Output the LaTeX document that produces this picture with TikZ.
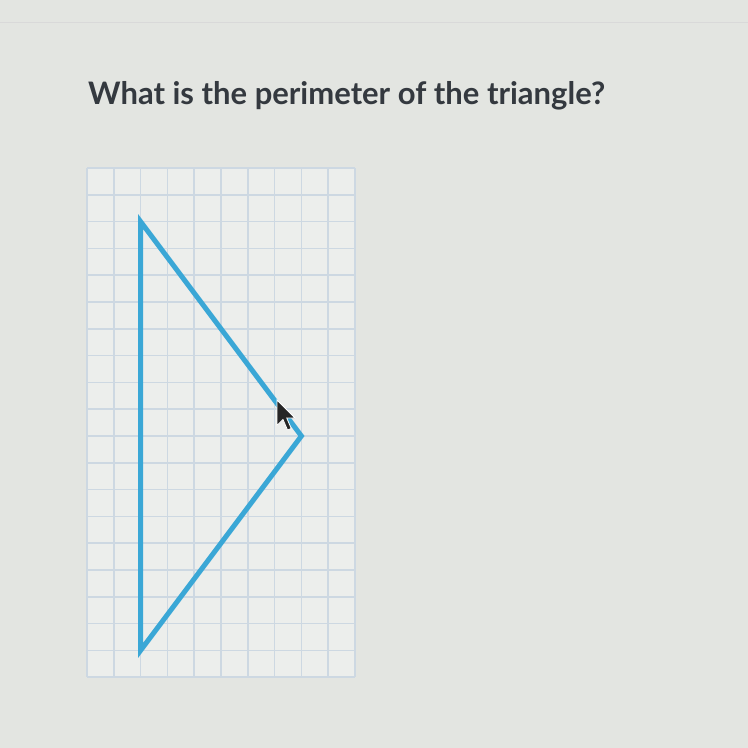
\documentclass[tikz,border=0pt]{standalone}
\usepackage{fontspec}
\setmainfont{Lato}
\begin{document}
\begin{tikzpicture}[x=1pt,y=-1pt,
  gridline/.style={draw=gridblue, line width=1.5pt},
  tri/.style={draw=triblue, line width=5pt, line join=miter, line cap=round}]
\definecolor{bg}{HTML}{E3E5E1}
\definecolor{gridfill}{HTML}{ECEEEC}
\definecolor{gridblue}{HTML}{CDD8E2}
\definecolor{triblue}{HTML}{3AA7D6}
\definecolor{txt}{HTML}{34393F}
\fill[bg] (0,0) rectangle (748,748);
\useasboundingbox (0,0) rectangle (748,748);
\draw[draw=black!15, line width=1pt] (0,22) -- (748,22);
\node[anchor=base west, inner sep=0pt, text=txt, font=\fontsize{31}{36}\selectfont\bfseries] (q) at (88,104) {What is the perimeter of the triangle?};
% grid
\fill[gridfill] (87,168) rectangle (355.0,677.2);
\foreach \i in {0,...,10} {
  \draw[gridline] ({87+\i*26.8},168) -- ({87+\i*26.8},677.2);
}
\foreach \j in {0,...,19} {
  \draw[gridline] (87,{168+\j*26.8}) -- (355,{168+\j*26.8});
}
% triangle
\coordinate (A) at (140.6,221.6);
\coordinate (B) at (140.6,650.4);
\coordinate (C) at (301.4,436);
\draw[tri] (A) -- (B) -- (C) -- cycle;
% cursor
\coordinate (tip) at (277,400);
\fill[black!85, draw=white, line width=0.8pt, shift={(tip)}, scale=1.5]
  (0,0) -- (0,17) -- (4,13) -- (7,20) -- (9.5,19) -- (6.5,12) -- (12,12) -- cycle;
\end{tikzpicture}
\end{document}
